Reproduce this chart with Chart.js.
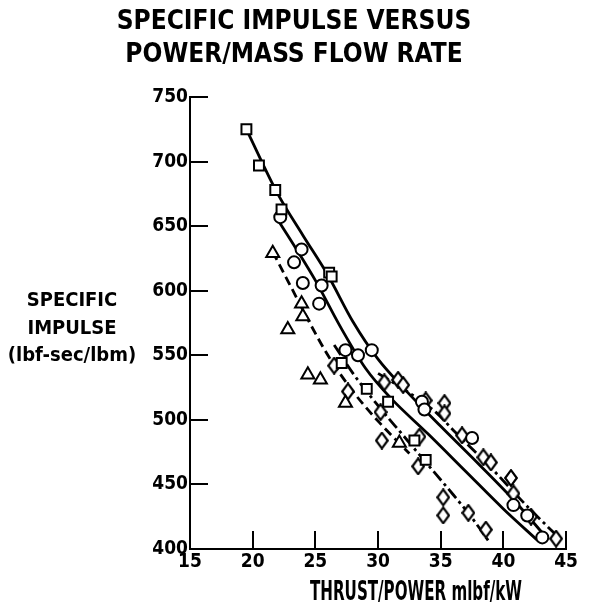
<!DOCTYPE html>
<html>
<head>
<meta charset="utf-8">
<script src="https://cdn.jsdelivr.net/npm/chart.js@4"></script>
<style>
    html, body { margin: 0; padding: 0; background: #fff; }
    #wrap { width: 598px; height: 613px; position: relative; }
</style>
</head>
<body>
<div id="wrap"><canvas id="chart"></canvas></div>
<script>
const FONT = '"Liberation Sans Narrow", "DejaVu Sans Condensed", "Arial Narrow", sans-serif';

const xTicks = [15, 20, 25, 30, 35, 40, 45];
const yTicks = [400, 450, 500, 550, 600, 650, 700, 750];
const titleLines = ['SPECIFIC IMPULSE VERSUS', 'POWER/MASS FLOW RATE'];
const yTitleLines = ['SPECIFIC', 'IMPULSE', '(lbf-sec/lbm)'];
const xTitle = 'THRUST/POWER mlbf/kW';

// measured points, [thrust/power, specific impulse]
const squares = [[19.5, 725], [20.5, 697], [21.8, 678], [22.3, 663], [26.1, 614], [26.3, 611],
    [27.1, 544], [29.1, 524], [30.8, 514], [32.9, 484], [33.8, 469]];
const circles = [[22.2, 657], [23.9, 632], [23.3, 622], [24.0, 606], [25.5, 604], [25.3, 590],
    [27.4, 554], [28.4, 550], [29.5, 554], [33.5, 514], [33.7, 508], [37.5, 486],
    [40.8, 434], [41.9, 426], [43.1, 409]];
const triangles = [[21.6, 629], [23.9, 590], [24.0, 580], [22.8, 570], [24.4, 535], [25.4, 531],
    [27.4, 513], [31.7, 482]];
const diamonds = [[30.5, 529], [31.6, 531], [32.0, 527], [33.8, 515], [35.3, 513], [35.3, 505],
    [36.7, 488], [38.4, 471], [39.0, 467], [40.6, 455], [40.8, 443], [42.2, 425], [44.2, 408],
    [26.5, 542], [27.6, 522], [30.2, 506], [30.3, 484], [33.3, 487], [33.2, 464], [35.2, 440],
    [35.2, 426], [37.2, 428], [38.6, 415]];

// fitted curves
const squareFit = [[19.5, 725], [22, 675], [24, 643], [26, 612], [28, 576], [30, 547], [32, 525],
    [35, 495], [38, 466], [41, 436], [43.5, 408]];
const circleFit = [[21.8, 658], [23.5, 632], [25, 608], [27, 572], [29, 540], [31, 517], [34, 489],
    [37, 460], [40, 431], [42.8, 406]];
const diamondFitUpper = [[30, 536], [32, 524], [34.6, 506], [36, 492], [39, 463], [42, 432], [44.3, 410]];
const diamondFitLower = [[26.5, 558], [28, 536], [30, 511], [32, 488], [34, 465], [36, 442], [37.5, 424], [38.9, 405]];
const triangleFit = [[21.6, 630], [23, 604], [24.5, 576], [26, 550], [28, 522], [30, 499], [32.5, 474]];

const toXY = arr => arr.map(p => ({ x: p[0], y: p[1] }));

// tall open diamond like the printed symbol
function makeDiamond() {
    const c = document.createElement('canvas');
    c.width = 14;
    c.height = 18;
    const g = c.getContext('2d');
    g.beginPath();
    g.moveTo(7, 1.2);
    g.lineTo(12.8, 9);
    g.lineTo(7, 16.8);
    g.lineTo(1.2, 9);
    g.closePath();
    g.fillStyle = '#fff';
    g.fill();
    g.lineWidth = 2.2;
    g.strokeStyle = '#000';
    g.stroke();
    return c;
}

function markerSet(data, style, radius) {
    return {
        data: toXY(data),
        showLine: false,
        pointStyle: style,
        pointRadius: radius,
        pointBackgroundColor: '#fff',
        pointBorderColor: '#000',
        pointBorderWidth: 2,
        clip: false
    };
}

function lineSet(data, dash) {
    return {
        data: toXY(data),
        showLine: true,
        borderColor: '#000',
        borderWidth: 2.8,
        borderDash: dash,
        pointRadius: 0,
        cubicInterpolationMode: 'monotone',
        clip: false
    };
}

const axisTitles = {
    id: 'axisTitles',
    afterDraw(chart) {
        const { ctx, chartArea } = chart;
        ctx.save();
        ctx.fillStyle = '#000';
        ctx.textAlign = 'center';
        ctx.textBaseline = 'middle';
        ctx.font = 'bold 20px ' + FONT;
        yTitleLines.forEach((t, i) => {
            ctx.fillText(t, chartArea.left - 118, chartArea.top + 204 + i * 27.5);
        });
        // the printed axis title is very condensed, squeeze it to its width
        ctx.font = 'bold 26px ' + FONT;
        const w = ctx.measureText(xTitle).width;
        ctx.translate(chartArea.left + 226, chartArea.bottom + 44);
        ctx.scale(212 / w, 1);
        ctx.fillText(xTitle, 0, 0);
        ctx.restore();
    }
};

const tickFont = { family: FONT, size: 19, weight: 'bold' };

new Chart(document.getElementById('chart'), {
    type: 'scatter',
    data: {
        datasets: [
            markerSet(squares, 'rect', 7),
            markerSet(circles, 'circle', 6),
            markerSet(triangles, 'triangle', 7.5),
            markerSet(diamonds, makeDiamond(), 7),
            lineSet(squareFit, []),
            lineSet(circleFit, []),
            lineSet(diamondFitUpper, [12, 4, 3, 4]),
            lineSet(diamondFitLower, [12, 4, 3, 4]),
            lineSet(triangleFit, [9, 5])
        ]
    },
    options: {
        responsive: true,
        maintainAspectRatio: false,
        animation: false,
        devicePixelRatio: 1,
        layout: { padding: { left: 0, right: 10, top: 0, bottom: 0 } },
        plugins: {
            legend: { display: false },
            tooltip: { enabled: false },
            title: {
                display: true,
                text: titleLines,
                color: '#000',
                font: { family: FONT, size: 26, weight: 'bold', lineHeight: 1.27 },
                padding: { top: 6, bottom: 25 }
            }
        },
        scales: {
            x: {
                type: 'linear',
                min: 15,
                max: 45,
                afterBuildTicks: s => { s.ticks = xTicks.map(v => ({ value: v })); },
                afterFit: s => { s.height = 64; },
                border: { display: true, color: '#000', width: 2 },
                grid: { drawOnChartArea: false, drawTicks: true, tickLength: -18, color: '#000', lineWidth: 2 },
                ticks: { color: '#000', font: tickFont, padding: 20, maxRotation: 0 }
            },
            y: {
                type: 'linear',
                min: 400,
                max: 750,
                afterBuildTicks: s => { s.ticks = yTicks.map(v => ({ value: v })); },
                afterFit: s => { s.width = 190; },
                border: { display: true, color: '#000', width: 2 },
                grid: { drawOnChartArea: false, drawTicks: true, tickLength: -18, color: '#000', lineWidth: 2 },
                ticks: { color: '#000', font: tickFont, padding: 20 }
            }
        }
    },
    plugins: [axisTitles]
});
</script>
</body>
</html>
